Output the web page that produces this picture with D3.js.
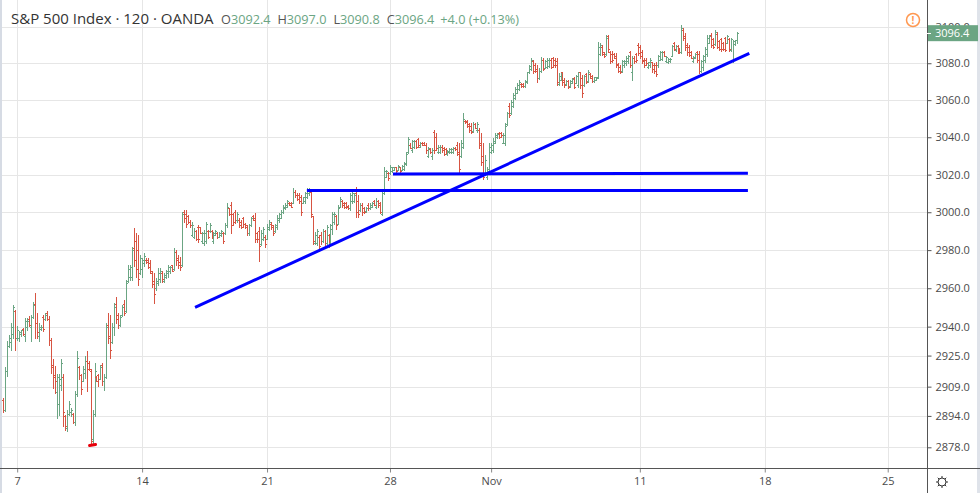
<!DOCTYPE html>
<html>
<head>
<meta charset="utf-8">
<script src="https://cdn.jsdelivr.net/npm/d3@7"></script>
<style>
  body { margin: 0; background: #fff; }
  svg { display: block; font-family: "Open Sans", sans-serif; }
</style>
</head>
<body>
<svg width="980" height="493"></svg>
<script>
// 2h bars, [open, high, low, close]
const bars = [
  [2902,2903.2,2895.9,2897],[2897,2919.2,2896.5,2917],[2917,2932.4,2914.4,2930],[2930,2935.9,2929.5,2934],
  [2932,2941.9,2928.1,2940],[2936,2951.3,2934.2,2950],[2948,2948.7,2928.1,2934],[2934,2940.2,2933.3,2938],
  [2934,2937.6,2932.4,2937],[2936,2938.4,2935,2938],[2939,2939.3,2935.9,2936],[2935,2944.5,2932.4,2943],
  [2940,2944.5,2938.4,2943],[2944,2945.3,2940.2,2941],[2940,2946.2,2932.4,2945],[2945,2953,2944.5,2951],
  [2952,2957.3,2934.2,2942],[2942,2947,2934.2,2937],[2935,2941.9,2932.4,2940],[2939,2941,2938.4,2940],
  [2945,2946.2,2937.6,2939],[2944,2947,2943.6,2946],[2947,2947.9,2943.6,2944],[2944,2945.3,2930.7,2933],
  [2933,2934.2,2916.1,2920],[2919,2923,2908.4,2914],[2915,2919.6,2905.8,2912],[2906,2915.3,2893,2914],
  [2900,2915.3,2894.7,2913],[2910,2923,2907.5,2921],[2914,2915.3,2888.6,2896],[2894,2894.5,2886.9,2889],
  [2888,2897.2,2886.1,2895],[2895,2901.5,2894.7,2900],[2896,2898.1,2893.8,2897],[2895,2895.5,2890.4,2891],
  [2891,2906.7,2889.5,2905],[2905,2927.3,2904.1,2924],[2919,2919.6,2912.7,2915],[2915,2915.3,2905,2908],
  [2912,2919.6,2911.8,2918],[2916,2924.7,2913.5,2922],[2922,2927.3,2906.7,2918],[2921,2922.1,2917.8,2918],
  [2917,2918,2879.2,2881],[2882,2897,2880,2895],[2895,2921.3,2894,2917],[2914,2914.4,2911.8,2912],
  [2915,2915.3,2909.3,2913],[2913,2920.4,2912.7,2919],[2920,2921.3,2910.1,2912],[2912,2915.3,2907.5,2914],
  [2914,2941.9,2913.5,2940],[2941,2947,2931.6,2934],[2935,2946.2,2923.9,2928],[2932,2941.9,2931.6,2940],
  [2940,2952.2,2935.9,2950],[2952,2955.6,2941.9,2944],[2946,2947,2939.3,2941],[2941,2946.2,2940.2,2945],
  [2946,2951.3,2945.3,2950],[2952,2953.9,2946.2,2947],[2948,2964.4,2947.5,2963],[2964,2972.3,2963.5,2970],
  [2966,2972.3,2964.4,2971],[2966,2981.9,2964.4,2980],[2981,2991.5,2971.4,2975],[2985,2988.9,2966.1,2970],
  [2980,2988,2961.7,2965],[2968,2977.5,2967.5,2976],[2970,2975.8,2966.1,2975],[2973,2978.4,2971.4,2977],
  [2975,2975.8,2973.1,2974],[2975,2975.8,2970.5,2971],[2973,2974.9,2967.9,2969],[2968,2968.8,2960.9,2962],
  [2964,2967.9,2952.1,2957],[2960,2965.2,2959.1,2964],[2963,2970.5,2961.7,2968],[2965,2970.5,2963.5,2969],
  [2968,2968.8,2963.5,2965],[2964,2967.9,2963.5,2967],[2966,2969.6,2965.2,2969],[2968,2972.3,2966.1,2971],
  [2969,2971.4,2967.9,2971],[2972,2972.3,2968.8,2969],[2970,2981,2969.5,2979],[2979,2980.1,2972.3,2975],
  [2976,2977.5,2970.5,2972],[2974,2976.6,2969.6,2971],[2972,3000.3,2971.5,2999],[3000,3001.2,2995.1,2997],
  [2999,3001.2,2992.4,2994],[2998,2998.6,2994.2,2995],[2995,2995.9,2992.4,2993],[2988,2995.1,2987.2,2993],
  [2987,2991.5,2986.3,2990],[2990,2990.7,2985.4,2986],[2992,2993.3,2984.5,2986],[2992,2992.4,2988.9,2989],
  [2985,2989.8,2983.7,2989],[2984,2990.7,2982.8,2989],[2985,2995.1,2983.7,2994],[2990,2990.7,2986.3,2987],
  [2990,2994.2,2989.5,2993],[2990,2990.7,2986.3,2987],[2985,2989.8,2983.7,2989],[2988,2990.7,2987.8,2990],
  [2989,2989.3,2986.3,2987],[2987,2989.8,2986.8,2989],[2988,2990.7,2987.2,2990],[2989,2989.3,2983.7,2985],
  [2989,2994.2,2988.5,2993],[2993,3004.7,2992.4,3003],[3002,3002.1,2998.6,2999],[3004,3005.6,2988.9,2993],
  [2999,2999.4,2993.3,2995],[3000,3001.2,2994.2,2996],[2996,3000.3,2995.1,2999],[2996,2996.8,2992.4,2993],
  [2995,2995.9,2991.5,2992],[2997,2997.7,2992.4,2994],[2994,2994.2,2991.5,2992],[2993,2993.3,2988,2989],
  [2989,2994,2987.8,2993],[2993,2997.6,2992.5,2997],[2998,2998.5,2995.8,2996],[2997,2999.4,2984.2,2986],
  [2989,2989.6,2984.2,2986],[2990,2992.2,2974.4,2982],[2983,2990.5,2982.5,2989],[2986,2992.2,2985.1,2991],
  [2987,2987.8,2981.6,2983],[2986,2994,2985.8,2992],[2991,2995.8,2990.5,2995],[2994,2994.9,2991.4,2992],
  [2993,2993.1,2987.8,2989],[2990,2994,2989.8,2993],[2992,2998.5,2991.4,2997],[2996,2999.4,2994.9,2999],
  [2997,3001.1,2996.7,3000],[3000,3003.8,2999.4,3003],[3002,3004.7,3001.8,3004],[3003,3006.5,3002.8,3006],
  [3005,3005.6,3003.8,3004],[3005,3005.6,3002.9,3003],[3005,3012.7,3004.7,3011],[3011,3011.8,3008.3,3009],
  [3009,3010,3006.5,3007],[3009,3010,3004.7,3006],[3008,3009.1,2998.5,3000],[3005,3008.3,3004.7,3008],
  [3006,3010.9,3004.7,3010],[3008,3012.7,3007.4,3012],[3010,3012.7,3009.1,3012],[3011,3011.8,2997.6,2999],
  [2998,2998.2,2983.3,2985],[2984,2989.6,2983.3,2988],[2984,2991.4,2982.5,2990],[2987,2987.8,2979.8,2982],
  [2988,2989.6,2983.3,2985],[2985,2991.4,2984.2,2990],[2990,2990.5,2982.5,2984],[2984,2993.1,2983.3,2992],
  [2988,2988.7,2981.6,2983],[2984,2994,2983.8,2993],[2991,3000.3,2988.7,2999],[2995,3000.3,2994,2999],
  [2998,2998.5,2991.4,2993],[2994,3003.8,2993.8,3002],[3003,3008.3,3002.8,3007],[3006,3006.5,3002.9,3004],
  [3005,3005.6,3002,3003],[3005,3005.6,3002,3003],[3003.5,3003.8,3001.8,3002],[3002,3010,3001.1,3009],
  [3006,3010.9,3004.7,3010],[3006,3010,3005.5,3009],[3010,3013.6,2997.6,3000],[3006,3009.1,2997.6,2999],
  [3001,3004.7,3000.8,3004],[3004,3004.7,2998.5,3000],[3002,3002.9,2999.4,3000],[3000.5,3002.9,3000.3,3002.5],
  [3004,3004.7,3001.1,3002],[3002,3004.7,3001.8,3004],[3003,3005.6,3002.8,3005],[3006,3006.5,3003.8,3004],
  [3003,3007.4,3002,3006],[3006,3006.5,3002.9,3004],[3005,3005.6,2999.4,3000],[2999,3012,2998.5,3010],
  [3010,3024.1,3009.5,3022],[3019,3022.3,3018.5,3022],[3021,3021.4,3016.9,3018],[3021,3025,3020.5,3024],
  [3022,3024.1,3021.4,3024],[3022.5,3024.1,3022.3,3024],[3024,3024.1,3021.4,3022],[3022.5,3025,3022.3,3024.5],
  [3024,3024.1,3021.4,3022],[3022.5,3025,3022.3,3024.5],[3023,3026.8,3022.3,3026],[3025.5,3032.2,3025,3031],
  [3032,3040.3,3031.3,3039],[3036,3036.7,3034,3034.5],[3033,3038.5,3032.2,3038],[3035,3038.5,3034,3038],
  [3038,3038.5,3034,3035],[3039,3039.4,3034.9,3036],[3035,3037.6,3034.9,3037],[3037,3037.6,3035.8,3036],
  [3037,3037.6,3035.8,3036],[3036,3036.7,3031.3,3033],[3030,3034.9,3029.5,3034],[3033.5,3034,3031.3,3032],
  [3030,3034,3028.6,3033],[3043,3043.9,3031.3,3033],[3040,3042.1,3033.1,3034],[3032,3035.8,3031.3,3035],
  [3032,3035.8,3031.3,3035],[3035,3035.8,3032.2,3033],[3034,3034.9,3030.4,3031],[3033.5,3034,3031.3,3032],
  [3031,3033.1,3030.4,3032.5],[3032,3034,3031.3,3033.5],[3032,3034,3031.3,3033.5],[3032,3034.9,3031.3,3034.5],
  [3034.5,3034.9,3033.1,3033.5],[3036,3037.6,3030.4,3031],[3032,3036.7,3021.4,3023],[3030,3038.5,3029.5,3037],
  [3035,3052.9,3034,3050],[3049,3049.3,3047.5,3048],[3049,3049.3,3045.7,3046],[3047,3047.5,3043,3044],
  [3046,3047.5,3042.1,3043],[3043.5,3048.4,3043,3047],[3047,3047.5,3044.8,3045],[3044,3048.4,3043,3047],
  [3044,3044.8,3034,3036],[3037,3042.1,3025,3027],[3030,3036.7,3017.8,3019],[3020,3030.4,3019.6,3028],
  [3019,3024.1,3017.8,3023],[3022,3036.7,3020.5,3035],[3032,3036.7,3031.3,3036],[3033,3039.4,3032.2,3038],
  [3037,3042.1,3036.7,3041],[3040,3042.1,3039.4,3042],[3042.5,3043,3039.4,3040],[3042.5,3043,3040.3,3041],
  [3037,3042.1,3036.7,3041],[3037,3047.5,3035.8,3046],[3047,3053.8,3046.6,3053],[3057,3058.3,3051.1,3052],
  [3053,3060,3052.5,3059],[3057,3063.6,3056.4,3063],[3061,3067.3,3060.5,3066],[3064,3069.1,3063.6,3068],
  [3066,3070.9,3065.4,3070],[3069,3069.1,3067.3,3067.5],[3069,3069.1,3067.3,3067.5],[3067.5,3070.9,3067.3,3070.5],
  [3070,3075.4,3069.1,3075],[3075,3079.1,3074.5,3078.5],[3077,3082.7,3076.3,3082],[3081,3081.8,3074.5,3076],
  [3079,3080,3075.4,3076],[3077,3079.1,3070,3072],[3072,3077.2,3071.5,3076],[3076,3083.6,3075.4,3082],
  [3082,3082.7,3076.3,3077],[3077.5,3081.8,3077.2,3081],[3078,3082.7,3077.2,3082],[3078.5,3082.7,3078.1,3082],
  [3082,3082.7,3077.2,3078],[3083,3083.6,3078.1,3079],[3082,3082.7,3078.1,3079],[3081,3082.7,3068.2,3070],
  [3069,3074.5,3068.2,3073],[3071,3075.4,3070.9,3075],[3075,3075.4,3068.2,3070],[3071,3071.8,3067.3,3068],
  [3068.5,3070.9,3068.2,3070.5],[3070.5,3070.9,3066.4,3067],[3067.5,3070.9,3067.3,3070.5],[3069.5,3071.8,3069.1,3071.5],
  [3072,3072.7,3066.4,3067],[3069.5,3073.6,3069.1,3073],[3068,3075.4,3067.3,3075],[3075,3075.4,3066.4,3068],
  [3072,3073.6,3061.8,3064],[3068,3073.6,3067.8,3073],[3074,3074.5,3069.1,3070],[3070.5,3076.3,3070,3075.5],
  [3074,3074.5,3071.8,3072],[3073,3073.6,3070,3070.5],[3070.5,3072.7,3070,3072.5],[3071,3072.7,3070.9,3072.5],
  [3072,3091.7,3071.8,3089],[3085,3090.8,3084.5,3090],[3089,3089.9,3084.5,3085],[3086,3086.3,3083.6,3084],
  [3085,3095.4,3084.5,3094],[3095,3095.4,3086.3,3088],[3086,3086.4,3080,3081],[3085,3086.4,3080.9,3082],
  [3085,3085.5,3082.8,3083],[3084,3085.5,3078.2,3079],[3079.5,3080,3075.5,3076],[3078,3079.1,3074.6,3075.5],
  [3076,3081.8,3075.5,3081],[3079,3081.8,3078.2,3081],[3080,3083.7,3079.1,3083],[3081,3084.6,3080,3084],
  [3086,3086.4,3078.2,3079],[3075,3083.7,3071,3083],[3083,3083.7,3080,3081],[3085,3085.5,3080.9,3082],
  [3090,3090.9,3084.6,3085.5],[3089,3090,3082.8,3084],[3086,3087.3,3080,3081],[3082,3082.8,3078.2,3079],
  [3082,3082.8,3079.1,3080],[3078,3080.9,3077.3,3080.5],[3079,3082.8,3078.2,3082],[3080.5,3080.9,3075.5,3077],
  [3079,3080,3074.6,3076],[3079,3080.9,3072.8,3074],[3079,3084.6,3078.2,3084],[3082,3086.4,3081.8,3086],
  [3082.5,3086.4,3081.8,3086],[3086,3086.4,3083.7,3084],[3081,3083.7,3080.9,3083.5],[3080.5,3082.8,3080,3082.5],
  [3081,3082.8,3080.9,3082.5],[3084,3090,3083.7,3089.5],[3091,3091.8,3087.3,3088],[3087,3090,3086.4,3089.5],
  [3089.5,3090,3085.5,3086],[3088,3088.2,3085.5,3086],[3086,3100.9,3085.5,3099],[3098,3099.1,3092.7,3094],
  [3095,3096.3,3087.3,3089],[3090,3090.9,3084.6,3086],[3089,3090,3083.7,3084.5],[3086,3086.4,3082.8,3083],
  [3081,3083.7,3080.9,3083.5],[3083,3085.5,3082.8,3085],[3086,3086.4,3080.9,3082],[3085,3086.4,3074.6,3076],
  [3076,3081.8,3075.5,3081],[3078,3084.6,3076.4,3084],[3082,3089.1,3080.9,3088],[3085,3095.4,3083.7,3094],
  [3091,3095.4,3090.9,3095],[3095.5,3096.3,3089.1,3090],[3093,3093.6,3088.2,3089],[3090.5,3098.2,3090,3097],
  [3096,3097.3,3088.2,3089],[3092,3092.7,3087.3,3088],[3093,3093.6,3086.4,3088],[3091,3091.8,3087.3,3088],
  [3094,3094.5,3086.4,3087],[3091,3095.4,3090.9,3095],[3093,3093.6,3086.4,3087.5],[3087,3093.6,3086.4,3093],
  [3082,3092.7,3080.9,3092],[3090.5,3092.7,3090,3092.4],[3092.4,3097.0,3090.8,3096.4]
]

// time axis (bar index of each label)
const dateTicks  = [7, 70, 133, 195, 246, 321, 384, 446]
const dateLabels = ["7", "14", "21", "28", "Nov", "11", "18", "25"]

// price axis
const priceTicks = [2878, 2894, 2909, 2925, 2940, 2960, 2980, 3000, 3020, 3040, 3060, 3080, 3100]

// drawn lines: [bar index, price] -> [bar index, price]
const drawings = [
  [[96.7, 2950.0], [376.2, 3085.4]],
  [[196.5, 3020.3], [375.5, 3020.8]],
  [[153.1, 3011.6], [375.5, 3011.6]]
]
const lowMarkBar = 44

const title = "S&P 500 Index · 120 · OANDA"
const ohlcKeys = ["O", "H", "L", "C"]
const lastBar = bars[bars.length - 1]
const change = "+4.0 (+0.13%)"

const upColor = "#6ba583", downColor = "#d75442"

const width = 980, height = 493
const plotW = 927, plotH = 468

const svg = d3.select("svg")

const x = d3.scaleLinear()
    .domain([0, bars.length - 1])
    .range([3.3, 737])

const y = d3.scaleLog()
    .domain([2867.5, 3114.6])
    .range([plotH, 0])

// edges
svg.append("rect").attr("x", 0).attr("y", 0).attr("width", 2).attr("height", height).attr("fill", "#d6dbe4")
svg.append("rect").attr("x", 977).attr("y", 0).attr("width", 3).attr("height", height).attr("fill", "#dfe3ea")

// grid
const grid = svg.append("g").attr("shape-rendering", "crispEdges")
grid.selectAll("line.h")
  .data(priceTicks)
  .enter().append("line")
    .attr("class", "h")
    .attr("x1", 2).attr("x2", plotW)
    .attr("y1", d => Math.round(y(d)) + 0.5)
    .attr("y2", d => Math.round(y(d)) + 0.5)
    .attr("stroke", "#e6e6e6")
grid.selectAll("line.v")
  .data(dateTicks)
  .enter().append("line")
    .attr("class", "v")
    .attr("x1", d => Math.round(x(d)) + 0.5)
    .attr("x2", d => Math.round(x(d)) + 0.5)
    .attr("y1", 0).attr("y2", plotH)
    .attr("stroke", "#e6e6e6")

// bars: wick plus 1px open / close ticks
const px = i => Math.round(x(i)) + 0.5
const py = v => Math.round(y(v)) + 0.5

svg.append("g")
    .attr("shape-rendering", "crispEdges")
  .selectAll("path")
  .data(bars)
  .enter().append("path")
    .attr("fill", "none")
    .attr("stroke", d => d[3] >= d[0] ? upColor : downColor)
    .attr("d", (d, i) => {
      const cx = px(i)
      const hi = d3.max(d), lo = d3.min(d)
      return `M${cx},${py(hi) - 0.5}V${py(lo) + 0.5}` +
             `M${cx - 1.5},${py(d[0])}H${cx}` +
             `M${cx},${py(d[3])}H${cx + 1.5}`
    })

// low marker
svg.append("line")
    .attr("x1", x(lowMarkBar) - 1).attr("x2", x(lowMarkBar) + 5)
    .attr("y1", y(bars[lowMarkBar][2]) + 0.5).attr("y2", y(bars[lowMarkBar][2]) - 0.5)
    .attr("stroke", "#e8000b").attr("stroke-width", 3).attr("stroke-linecap", "round")

// drawn lines
svg.append("g")
  .selectAll("line")
  .data(drawings)
  .enter().append("line")
    .attr("x1", d => x(d[0][0])).attr("y1", d => y(d[0][1]))
    .attr("x2", d => x(d[1][0])).attr("y2", d => y(d[1][1]))
    .attr("stroke", "#0000ff")
    .attr("stroke-width", 3)

// price axis
const yAxis = svg.append("g")
    .attr("transform", `translate(${plotW + 0.5},0)`)
    .call(d3.axisRight(y).tickValues(priceTicks).tickFormat(d3.format(".1f")).tickSize(4).tickPadding(4))
yAxis.select(".domain").remove()
yAxis.selectAll(".tick line").attr("stroke", "#555")
yAxis.selectAll(".tick text").attr("fill", "#4a4a4a").attr("font-size", 11).attr("font-family", "Open Sans, sans-serif")

// time axis
const xAxis = svg.append("g")
    .attr("transform", `translate(0,${plotH + 0.5})`)
    .call(d3.axisBottom(x).tickValues(dateTicks).tickFormat((d, i) => dateLabels[i]).tickSize(4).tickPadding(5))
xAxis.select(".domain").remove()
xAxis.selectAll(".tick line").attr("stroke", "#888")
xAxis.selectAll(".tick text").attr("fill", "#4a4a4a").attr("font-size", 11).attr("font-family", "Open Sans, sans-serif")

// axis borders
svg.append("line").attr("x1", 0).attr("x2", width).attr("y1", plotH + 0.5).attr("y2", plotH + 0.5).attr("stroke", "#555")
svg.append("line").attr("x1", plotW + 0.5).attr("x2", plotW + 0.5).attr("y1", 0).attr("y2", height).attr("stroke", "#555")

// last price label (covers the top tick label, as in the original)
const lastY = y(lastBar[3])
svg.append("rect")
    .attr("x", plotW + 1).attr("y", lastY - 8).attr("width", 50).attr("height", 16)
    .attr("fill", upColor)
svg.append("line")
    .attr("x1", plotW).attr("x2", plotW + 4).attr("y1", Math.round(lastY) + 0.5).attr("y2", Math.round(lastY) + 0.5)
    .attr("stroke", "#fff")
svg.append("text")
    .attr("x", plotW + 8).attr("y", lastY)
    .attr("dy", "0.35em")
    .attr("fill", "#fff").attr("font-size", 11)
    .text(d3.format(".1f")(lastBar[3]))

// header
svg.append("text")
    .attr("x", 11).attr("y", 24)
    .attr("fill", "#333").attr("font-size", 15)
    .text(title)

const legend = svg.append("text")
    .attr("x", 221).attr("y", 24)
    .attr("font-size", 12.7)
ohlcKeys.forEach((k, i) => {
  legend.append("tspan").attr("dx", i ? 7 : 0).attr("fill", "#555").text(k)
  legend.append("tspan").attr("fill", upColor).text(d3.format(".1f")(lastBar[i]))
})
legend.append("tspan").attr("dx", 6).attr("fill", upColor).text(change)

// warning icon
const warn = svg.append("g").attr("transform", "translate(913,20)")
warn.append("circle").attr("r", 6.5).attr("fill", "none").attr("stroke", "#ff9850").attr("stroke-width", 1.5)
warn.append("text").attr("text-anchor", "middle").attr("dy", "0.36em")
    .attr("fill", "#ff9850").attr("font-size", 10).attr("font-weight", "bold").text("!")

// settings gear
const gear = svg.append("g").attr("transform", "translate(942,482)")
gear.append("circle").attr("r", 4).attr("fill", "none").attr("stroke", "#333")
gear.selectAll("line")
  .data(d3.range(8))
  .enter().append("line")
    .attr("x1", d => 4 * Math.cos(d * Math.PI / 4)).attr("y1", d => 4 * Math.sin(d * Math.PI / 4))
    .attr("x2", d => 6 * Math.cos(d * Math.PI / 4)).attr("y2", d => 6 * Math.sin(d * Math.PI / 4))
    .attr("stroke", "#333")
</script>
</body>
</html>
